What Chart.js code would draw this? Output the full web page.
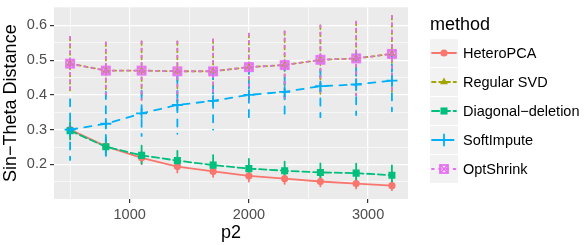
<!DOCTYPE html>
<html>
<head>
<meta charset="utf-8">
<script src="https://cdn.jsdelivr.net/npm/chart.js@4.4.1/dist/chart.umd.min.js"></script>
<style>
  html, body { margin: 0; padding: 0; background: #fff; }
  #chart { display: block; }
</style>
</head>
<body>
<canvas id="chart" width="586" height="245"></canvas>
<script>
// data
const p2 = [500, 800, 1100, 1400, 1700, 2000, 2300, 2600, 2900, 3200];
const methods = ["HeteroPCA", "Regular SVD", "Diagonal\u2212deletion", "SoftImpute", "OptShrink"];

const heteroMean = [0.300, 0.252, 0.219, 0.194, 0.180, 0.167, 0.159, 0.151, 0.145, 0.139];
const heteroLo   = [0.280, 0.234, 0.201, 0.177, 0.164, 0.151, 0.144, 0.137, 0.131, 0.126];
const heteroHi   = [0.320, 0.270, 0.237, 0.211, 0.196, 0.183, 0.174, 0.165, 0.159, 0.152];

const svdMean = [0.490, 0.470, 0.470, 0.468, 0.468, 0.480, 0.486, 0.501, 0.505, 0.518];
const svdLo   = [0.413, 0.389, 0.386, 0.381, 0.376, 0.384, 0.389, 0.402, 0.399, 0.409];
const svdHi   = [0.567, 0.551, 0.554, 0.554, 0.560, 0.576, 0.583, 0.600, 0.611, 0.627];

const diagMean = [0.297, 0.251, 0.226, 0.211, 0.198, 0.188, 0.182, 0.177, 0.175, 0.169];
const diagLo   = [0.272, 0.224, 0.198, 0.182, 0.170, 0.160, 0.155, 0.151, 0.148, 0.141];
const diagHi   = [0.322, 0.278, 0.254, 0.239, 0.227, 0.216, 0.208, 0.203, 0.202, 0.197];

const softMean = [0.300, 0.317, 0.347, 0.371, 0.383, 0.400, 0.409, 0.425, 0.430, 0.441];
const softLo   = [0.213, 0.225, 0.282, 0.288, 0.300, 0.319, 0.327, 0.336, 0.342, 0.353];
const softHi   = [0.388, 0.409, 0.412, 0.454, 0.466, 0.481, 0.491, 0.514, 0.518, 0.529];

const optMean = [0.490, 0.470, 0.470, 0.468, 0.468, 0.480, 0.486, 0.501, 0.505, 0.518];
const optLo   = [0.413, 0.389, 0.386, 0.381, 0.376, 0.384, 0.389, 0.402, 0.399, 0.409];
const optHi   = [0.567, 0.551, 0.554, 0.554, 0.560, 0.576, 0.583, 0.600, 0.611, 0.627];

// axis ticks
const yMajor = [0.2, 0.3, 0.4, 0.5, 0.6];
const yMinor = [0.15, 0.25, 0.35, 0.45, 0.55];
const xMajor = [1000, 2000, 3000];
const xMinor = [500, 1500, 2500];

const FONT = '"Liberation Sans", Arial, Helvetica, sans-serif';
const LW = 1.8;

// ggplot shape 7: open square with an X through it
function squareCross(color) {
  const c = document.createElement("canvas");
  c.width = 12; c.height = 12;
  const g = c.getContext("2d");
  g.strokeStyle = color;
  g.lineWidth = 1.7;
  g.strokeRect(2, 2, 8, 8);
  g.beginPath();
  g.moveTo(2, 2); g.lineTo(10, 10);
  g.moveTo(10, 2); g.lineTo(2, 10);
  g.stroke();
  return c;
}

const toPts = arr => p2.map((x, i) => ({ x: x, y: arr[i] }));

const series = [
  { mean: heteroMean, lo: heteroLo, hi: heteroHi, color: "#F8766D", dash: [], style: "circle", r: 3.6 },
  { mean: svdMean, lo: svdLo, hi: svdHi, color: "#A3A500", dash: [LW * 2, LW * 2], style: "triangle", r: 4.5 },
  { mean: diagMean, lo: diagLo, hi: diagHi, color: "#00BF7D", dash: [LW * 4, LW * 2], style: "rect", r: 5 },
  { mean: softMean, lo: softLo, hi: softHi, color: "#00B0F6", dash: [LW * 4, LW * 4], style: "cross", r: 5.5 },
  { mean: optMean, lo: optLo, hi: optHi, color: "#E76BF3", dash: [LW * 1, LW * 3], style: squareCross("#E76BF3"), r: 5 }
];

const datasets = series.map((s, i) => ({
  label: methods[i],
  data: toPts(s.mean),
  lo: s.lo,
  hi: s.hi,
  order: series.length - 1 - i,
  borderColor: s.color,
  backgroundColor: s.color,
  borderWidth: LW,
  borderDash: s.dash,
  borderCapStyle: "round",
  borderJoinStyle: "round",
  tension: 0,
  pointStyle: s.style,
  pointRadius: s.r,
  pointHoverRadius: s.r,
  pointBorderWidth: s.style === "cross" ? LW : 0,
  pointBackgroundColor: s.color,
  pointBorderColor: s.color,
  fill: false
}));

// grey panel
const panelBg = {
  id: "panelBg",
  beforeDraw(chart) {
    const { ctx, chartArea: a } = chart;
    ctx.save();
    ctx.fillStyle = "#EBEBEB";
    ctx.fillRect(a.left, a.top, a.right - a.left, a.bottom - a.top);
    ctx.restore();
  }
};

// vertical error bars, same colour and linetype as their series
const errorBars = {
  id: "errorBars",
  beforeDatasetsDraw(chart) {
    const { ctx, chartArea: a, scales: { x, y } } = chart;
    ctx.save();
    ctx.beginPath();
    ctx.rect(a.left, a.top, a.right - a.left, a.bottom - a.top);
    ctx.clip();
    chart.data.datasets.forEach(ds => {
      ctx.strokeStyle = ds.borderColor;
      ctx.lineWidth = ds.borderWidth;
      ctx.lineCap = "round";
      ctx.setLineDash(ds.borderDash);
      ds.data.forEach((pt, i) => {
        const px = x.getPixelForValue(pt.x);
        ctx.beginPath();
        ctx.moveTo(px, y.getPixelForValue(ds.hi[i]));
        ctx.lineTo(px, y.getPixelForValue(ds.lo[i]));
        ctx.stroke();
      });
    });
    ctx.restore();
  }
};

// ggplot-like legend on the right
const sideLegend = {
  id: "sideLegend",
  afterDraw(chart) {
    const ctx = chart.ctx;
    const left = 430, top = 39, key = 28, step = 29;
    ctx.save();
    ctx.fillStyle = "#000";
    ctx.textBaseline = "middle";
    ctx.font = "18px " + FONT;
    ctx.fillText("method", left, 25);
    ctx.font = "14.5px " + FONT;
    chart.data.datasets.forEach((ds, i) => {
      const y0 = top + i * step;
      const cy = y0 + key / 2;
      ctx.fillStyle = "#F2F2F2";
      ctx.fillRect(left, y0, key, key);
      ctx.strokeStyle = ds.borderColor;
      ctx.lineWidth = ds.borderWidth;
      ctx.lineCap = "round";
      ctx.setLineDash(ds.borderDash);
      ctx.beginPath();
      ctx.moveTo(left + 2, cy);
      ctx.lineTo(left + key - 2, cy);
      ctx.stroke();
      ctx.setLineDash([]);
      ctx.fillStyle = ds.pointBackgroundColor;
      ctx.strokeStyle = ds.pointBorderColor;
      ctx.lineWidth = ds.pointBorderWidth;
      Chart.helpers.drawPoint(ctx, {
        pointStyle: ds.pointStyle, radius: ds.pointRadius,
        borderWidth: ds.pointBorderWidth, rotation: 0
      }, left + key / 2, cy);
      ctx.fillStyle = "#000";
      ctx.fillText(ds.label, 463, cy + 1);
    });
    ctx.restore();
  }
};

const canvas = document.getElementById("chart");
const ctx = canvas.getContext("2d");

const chart = new Chart(ctx, {
  type: "line",
  data: { datasets: datasets },
  plugins: [panelBg, errorBars, sideLegend],
  options: {
    responsive: false,
    animation: false,
    devicePixelRatio: 1,
    layout: { padding: { left: 0, right: 178, top: 2, bottom: 0 } },
    plugins: {
      legend: { display: false },
      tooltip: { enabled: false }
    },
    scales: {
      x: {
        type: "linear",
        min: 365,
        max: 3335,
        afterBuildTicks: s => { s.ticks = [...xMinor, ...xMajor].sort((a, b) => a - b).map(v => ({ value: v })); },
        afterFit: s => { s.height = 46; s.paddingLeft = 0; s.paddingRight = 0; },
        border: { display: false },
        grid: {
          color: "#FFFFFF",
          lineWidth: c => xMajor.includes(c.tick.value) ? 1.2 : 0.6,
          tickColor: c => xMajor.includes(c.tick.value) ? "#333333" : "rgba(0,0,0,0)",
          tickLength: 4
        },
        ticks: {
          callback: v => xMajor.includes(v) ? String(v) : "",
          autoSkip: false,
          maxRotation: 0,
          padding: 3,
          color: "#4D4D4D",
          font: { family: FONT, size: 14.5 }
        },
        title: {
          display: true,
          text: "p2",
          color: "#000",
          padding: { top: 0, bottom: 1 },
          font: { family: FONT, size: 18 }
        }
      },
      y: {
        type: "linear",
        min: 0.1006,
        max: 0.652,
        afterBuildTicks: s => { s.ticks = [...yMinor, ...yMajor].sort((a, b) => a - b).map(v => ({ value: v })); },
        afterFit: s => { s.width = 54; s.paddingTop = 0; s.paddingBottom = 0; },
        border: { display: false },
        grid: {
          color: "#FFFFFF",
          lineWidth: c => yMajor.includes(c.tick.value) ? 1.2 : 0.6,
          tickColor: c => yMajor.includes(c.tick.value) ? "#333333" : "rgba(0,0,0,0)",
          tickLength: 4
        },
        ticks: {
          callback: v => yMajor.includes(v) ? v.toFixed(1) : "",
          autoSkip: false,
          padding: 3,
          color: "#4D4D4D",
          font: { family: FONT, size: 14.5 }
        },
        title: {
          display: true,
          text: "Sin\u2212Theta Distance",
          color: "#000",
          padding: { top: 0, bottom: 0 },
          font: { family: FONT, size: 18 }
        }
      }
    }
  }
});
</script>
</body>
</html>
